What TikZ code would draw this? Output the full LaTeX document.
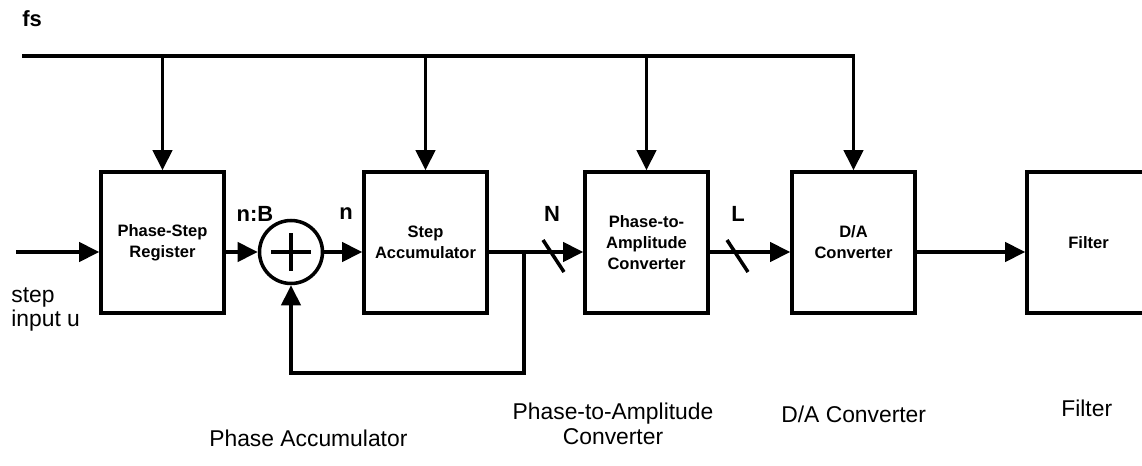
\documentclass[tikz,border=0pt]{standalone}
\usepackage{fontspec}
\setmainfont{Liberation Sans}
\usetikzlibrary{arrows.meta,positioning,calc}

\begin{document}
\begin{tikzpicture}[x=0.02cm, y=-0.02cm,
    blk/.style={draw, line width=2pt, minimum width=2.46cm, minimum height=2.82cm,
      align=center, inner sep=0pt, font=\fontsize{9.4}{12}\selectfont\bfseries},
    sig/.style={line width=2pt, -{Triangle[length=11.5pt,width=11pt]}},
    wire/.style={line width=2pt},
    lbl/.style={font=\fontsize{12.5}{14}\selectfont\bfseries},
    captxt/.style={font=\fontsize{13}{14}\selectfont, align=center}]
  \useasboundingbox (0,0) rectangle (1142,466);

  % blocks
  \node[blk] (psr) at (162.5,242.5) {Phase-Step\\Register};
  \node[draw, circle, line width=2pt, minimum size=1.26cm, inner sep=0pt] (sum) at (291,252) {};
  \node[blk] (acc) at (425.5,242.5) {Step\\Accumulator};
  \node[blk] (pta) at (646.5,242.5) {Phase-to-\\Amplitude\\Converter};
  \node[blk] (dac) at (853.5,242.5) {D/A\\Converter};
  \node[blk] (filt) at (1088.5,242.5) {Filter};

  % plus sign
  \draw[wire] ($(sum.center)+(-20,0)$) -- ($(sum.center)+(20,0)$);
  \draw[wire] ($(sum.center)+(0,-19)$) -- ($(sum.center)+(0,19)$);

  % clock bus
  \coordinate (bus0) at (22,56);
  \coordinate (bus1) at (855,56);
  \coordinate (inp) at (16,252);
  \coordinate (tap) at (524,252);
  \coordinate (fb) at (524,373);
  \draw[wire] (bus0) -- (bus1);
  \foreach \b in {psr,acc,pta,dac}
    \draw[sig] (bus0 -| \b.north) -- (\b.north);

  % signal path
  \draw[sig] (inp) -- (inp -| psr.west);
  \draw[sig] (inp -| psr.east) -- (sum.west);
  \draw[sig] (sum.east) -- (inp -| acc.west);
  \draw[sig] (inp -| acc.east) -- (inp -| pta.west);
  \draw[sig] (inp -| pta.east) -- (inp -| dac.west);
  \draw[sig] (inp -| dac.east) -- (inp -| filt.west);
  \draw[sig] (tap) -- (fb) -- (fb -| sum.south) -- (sum.south);

  % bus width marks
  \draw[wire] (543,240) -- (564,272);
  \draw[wire] (727,240) -- (748,272);

  \node[lbl, anchor=west, inner sep=0pt] (fs) at (22,19) {fs};
  \node[lbl] (nb) at (255,214) {n:B};
  \node[lbl] (nn) at (346,214) {n};
  \node[lbl] (bn) at (552,214) {N};
  \node[lbl] (bl) at (738,214) {L};
  \node[captxt, anchor=north west, align=left, inner sep=0pt] (stp) at (11,287) {step\\input u};

  \node[captxt, anchor=west, inner sep=0pt] (c1) at (209,438) {Phase Accumulator};
  \node[captxt] (c2) at (613,424) {Phase-to-Amplitude\\Converter};
  \node[captxt, anchor=west, inner sep=0pt] (c3) at (781,414) {D/A Converter};
  \node[captxt, anchor=west, inner sep=0pt] (c4) at (1061,408) {Filter};
\end{tikzpicture}
\end{document}
